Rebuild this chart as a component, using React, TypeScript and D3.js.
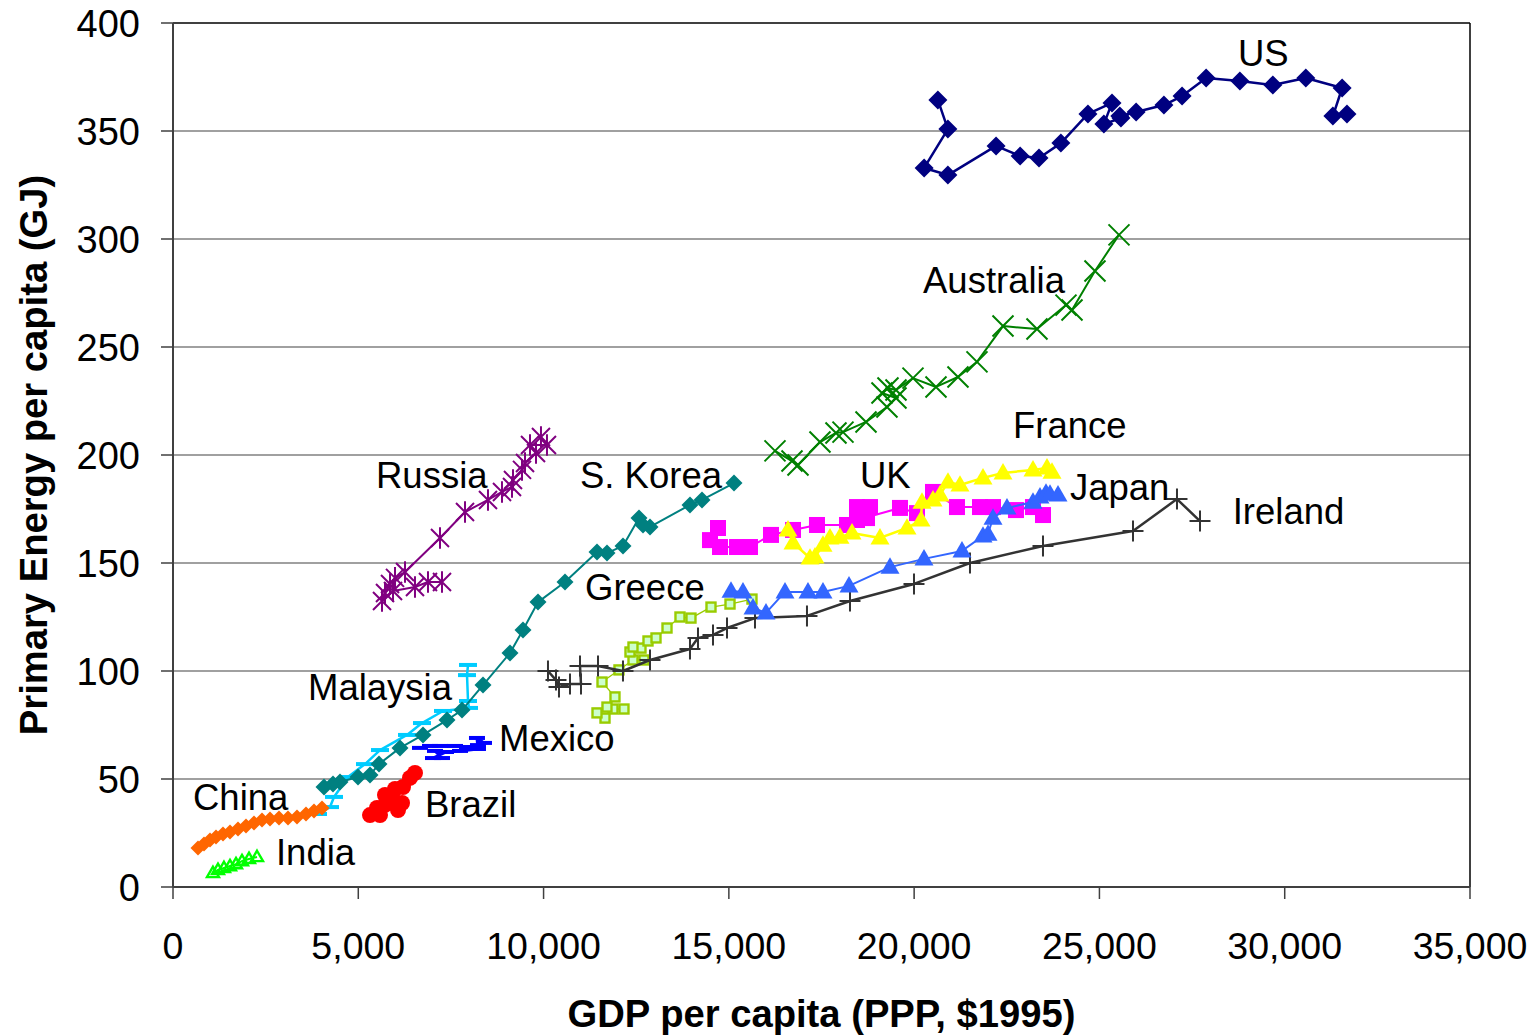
import React from "react";
import * as d3 from "d3";

// ---- Data (GDP per capita PPP $1995, Primary energy per capita GJ) ----
const xTicks = [0, 5000, 10000, 15000, 20000, 25000, 30000, 35000];
const yTicks = [0, 50, 100, 150, 200, 250, 300, 350, 400];

const usData: [number, number][] = [
  [20640, 364.4], [20910, 350.9], [20270, 332.9], [20910, 329.6], [22210, 343.1], [22860, 338.4],
  [23370, 337.5], [23960, 344.4], [24690, 357.9], [25340, 363.0], [25120, 353.2], [25580, 356.0],
  [25550, 356.9], [25990, 358.8], [26740, 362.0], [27230, 366.2], [27880, 374.5], [28790, 373.1],
  [29680, 371.3], [30570, 374.5], [31550, 369.9], [31300, 356.9], [31680, 357.9],
];
const australiaData: [number, number][] = [
  [16245, 201.9], [16704, 197.2], [16866, 195.4], [17459, 206.0], [17891, 210.2], [18080, 210.6],
  [18701, 215.3], [19267, 222.2], [19510, 226.4], [19132, 228.7], [19294, 231.0], [19510, 230.1],
  [19969, 235.6], [20590, 231.5], [21183, 236.1], [21696, 243.1], [22398, 259.7], [23315, 258.3],
  [24098, 269.4], [24260, 267.1], [24880, 285.2], [25528, 301.9],
];
const russiaData: [number, number][] = [
  [9930, 208.3], [10092, 204.6], [9634, 204.6], [9796, 200.9], [9499, 196.3], [9418, 193.1],
  [9175, 188.4], [9148, 185.2], [8878, 182.9], [8500, 179.2], [7880, 173.6], [7205, 161.6],
  [6261, 145.8], [5991, 143.1], [5856, 140.3], [5721, 136.1], [5640, 132.4], [5937, 137.0],
  [6530, 138.9], [6881, 141.2], [7259, 141.2],
];
const koreaData: [number, number][] = [
  [4075, 46.3], [4318, 47.7], [4506, 48.6], [4992, 50.9], [5316, 51.9], [5559, 56.9], [6126, 64.4],
  [6746, 70.4], [7394, 77.3], [7799, 81.9], [8365, 93.5], [9094, 108.3], [9445, 119.0], [9850, 131.9],
  [10578, 141.2], [11442, 155.1], [11711, 154.6], [12143, 157.9], [12575, 170.8], [12683, 167.6],
  [12872, 166.7], [13951, 176.9], [14275, 179.2], [15139, 187.0],
];
const malaysiaData: [number, number][] = [
  [3913, 33.8], [4237, 37.0], [4345, 41.7], [4722, 50.9], [5181, 56.9], [5586, 63.4], [6315, 70.4],
  [6719, 75.9], [7286, 81.5], [7988, 82.9], [7961, 86.1], [7934, 98.1], [7961, 102.8],
];
const mexicoData: [number, number][] = [
  [6665, 64.4], [6935, 65.3], [7205, 65.3], [7610, 65.3], [7934, 64.8], [8230, 65.7], [8392, 66.7],
  [8203, 69.0], [8230, 63.9], [7745, 63.0], [7367, 62.5], [7016, 59.7], [7259, 59.7], [7070, 63.0],
];
const brazilData: [number, number][] = [
  [5316, 33.3], [5586, 33.3], [5505, 36.6], [5721, 38.0], [6072, 35.6], [6180, 38.9], [5937, 40.7],
  [5721, 42.6], [5991, 45.4], [6207, 46.3], [6395, 50.5], [6530, 52.8],
];
const chinaData: [number, number][] = [
  [675, 18.1], [837, 19.9], [998, 21.8], [1160, 23.1], [1349, 24.5], [1538, 25.5], [1754, 26.9],
  [1970, 28.2], [2186, 29.6], [2402, 31.0], [2618, 31.5], [2860, 31.9], [3103, 31.9], [3346, 32.4],
  [3589, 33.8], [3805, 35.2], [4021, 36.6],
];
const indiaData: [number, number][] = [
  [1079, 6.5], [1214, 7.9], [1376, 8.8], [1538, 9.7], [1700, 10.6], [1862, 12.0], [2051, 13.0], [2267, 13.9],
];
const greeceData: [number, number][] = [
  [12170, 82.4], [11873, 82.4], [11658, 78.2], [11442, 80.6], [11711, 83.3], [11927, 88.0],
  [11577, 94.9], [12035, 100.5], [12413, 105.1], [12710, 105.1], [12332, 108.8], [12629, 110.6],
  [12413, 111.1], [12818, 113.9], [13034, 115.3], [13331, 119.9], [13681, 125.0], [13978, 124.5],
  [14518, 129.6], [15031, 131.0], [15624, 133.3],
];
const irelandData: [number, number][] = [
  [10119, 100.0], [10335, 95.8], [10416, 92.6], [10713, 94.0], [11010, 94.0], [10983, 102.3],
  [11469, 102.3], [12143, 100.0], [12872, 105.1], [13951, 110.2], [14167, 115.3], [14572, 116.7],
  [14950, 119.9], [15705, 124.5], [17108, 125.5], [18269, 132.4], [19996, 140.3], [21507, 150.0],
  [23477, 157.9], [25906, 164.8], [27093, 179.6], [27714, 169.4],
];
const ukData: [number, number][] = [
  [14707, 166.2], [14491, 160.6], [14761, 157.4], [15220, 157.4], [15570, 157.4], [16137, 163.0],
  [16731, 165.3], [17378, 167.6], [18188, 167.6], [18458, 175.9], [18809, 175.9], [18728, 170.8],
  [18458, 169.9], [19618, 175.5], [20077, 173.1], [20509, 182.9], [21156, 175.9], [21777, 175.9],
  [22128, 175.9], [22748, 174.5], [23207, 175.9], [23477, 172.2],
];
const japanData: [number, number][] = [
  [15058, 137.0], [15381, 136.6], [15651, 129.2], [16002, 126.9], [16515, 136.6], [17135, 136.6],
  [17540, 136.6], [18242, 139.4], [19348, 148.1], [20266, 151.9], [21291, 155.6], [21858, 162.5],
  [21993, 163.4], [22128, 170.8], [22505, 175.5], [23207, 178.2], [23396, 180.6], [23558, 182.4],
  [23666, 181.9], [23882, 181.5],
];
const franceData: [number, number][] = [
  [16596, 165.3], [16731, 159.3], [17189, 152.3], [17324, 152.8], [17540, 158.3], [17729, 161.6],
  [17999, 162.0], [18323, 163.9], [19078, 161.6], [19807, 166.2], [20185, 169.9], [20212, 178.2],
  [20509, 179.2], [20697, 181.5], [20913, 187.5], [21237, 186.1], [21858, 189.4], [22398, 191.7],
  [23207, 193.1], [23585, 194.0], [23720, 192.1],
];

const labelNames = ["US", "Australia", "France", "Russia", "S. Korea", "UK", "Japan", "Ireland", "Greece", "Malaysia", "Mexico", "China", "Brazil", "India"];
const labelX = [28739, 20239, 22667, 5478, 10983, 18539, 24205, 28596, 11118, 3643, 8797, 540, 6800, 2779];
const labelY = [380.1, 275.0, 207.9, 184.7, 184.7, 184.7, 179.2, 168.0, 132.9, 86.6, 63.0, 35.6, 32.4, 10.2];

// ---- Layout ----
const W = 1535, H = 1035;
const L = 173, R = 1470, T = 23, B = 887;
const x = d3.scaleLinear().domain([0, 35000]).range([L, R]);
const y = d3.scaleLinear().domain([0, 400]).range([B, T]);
const FONT = "'Liberation Sans', Arial, sans-serif";

type Marker = "diamond" | "x" | "asterisk" | "plus" | "triangle" | "square" | "circle" | "dash";
type Series = {
  data: [number, number][];
  color: string;
  lw: number;
  marker: Marker;
  size: number;
  fill?: string;
  mstroke?: number;
};

const series: Series[] = [
  { data: usData, color: "#000080", lw: 2.5, marker: "diamond", size: 9.5 },
  { data: australiaData, color: "#008000", lw: 2, marker: "x", size: 10.5, mstroke: 2 },
  { data: russiaData, color: "#800080", lw: 2, marker: "asterisk", size: 9, mstroke: 2 },
  { data: malaysiaData, color: "#00ccff", lw: 2.5, marker: "dash", size: 9 },
  { data: koreaData, color: "#008080", lw: 2, marker: "diamond", size: 8.5 },
  { data: mexicoData, color: "#0000ff", lw: 3, marker: "dash", size: 8 },
  { data: brazilData, color: "#ff0000", lw: 2, marker: "circle", size: 8 },
  { data: chinaData, color: "#ff6600", lw: 2, marker: "diamond", size: 7.5 },
  { data: indiaData, color: "#00ff00", lw: 2, marker: "triangle", size: 6, fill: "none", mstroke: 2.4 },
  { data: greeceData, color: "#99cc00", lw: 1.3, marker: "square", size: 4.5, fill: "#ccffcc", mstroke: 2.4 },
  { data: irelandData, color: "#333333", lw: 2.5, marker: "plus", size: 10.5, mstroke: 2 },
  { data: ukData, color: "#ff00ff", lw: 2, marker: "square", size: 8 },
  { data: japanData, color: "#3366ff", lw: 2, marker: "triangle", size: 9.5 },
  { data: franceData, color: "#ffff00", lw: 2.5, marker: "triangle", size: 9.5 },
];

function markerEl(m: Marker, s: number, color: string, fill: string | undefined, ms: number | undefined, key: string, cx: number, cy: number) {
  const tr = `translate(${cx},${cy})`;
  switch (m) {
    case "diamond":
      return <path key={key} transform={tr} d={`M0,${-s}L${s},0L0,${s}L${-s},0Z`} fill={color} />;
    case "x":
      return <path key={key} transform={tr} d={`M${-s},${-s}L${s},${s}M${-s},${s}L${s},${-s}`} stroke={color} strokeWidth={ms ?? 2} fill="none" />;
    case "asterisk":
      return <path key={key} transform={tr} d={`M${-s},${-s}L${s},${s}M${-s},${s}L${s},${-s}M0,${-s * 1.2}V${s * 1.2}`} stroke={color} strokeWidth={ms ?? 2} fill="none" />;
    case "plus":
      return <path key={key} transform={tr} d={`M${-s},0H${s}M0,${-s}V${s}`} stroke={color} strokeWidth={ms ?? 2} fill="none" />;
    case "triangle": {
      const h = s * 1.73;
      return <path key={key} transform={tr} d={`M0,${-h * 0.6}L${s},${h * 0.4}L${-s},${h * 0.4}Z`} fill={fill ?? color} stroke={color} strokeWidth={ms ?? 0} />;
    }
    case "square":
      return <rect key={key} x={cx - s} y={cy - s} width={2 * s} height={2 * s} fill={fill ?? color} stroke={ms ? color : "none"} strokeWidth={ms ?? 0} />;
    case "circle":
      return <circle key={key} cx={cx} cy={cy} r={s} fill={color} />;
    case "dash":
      return <rect key={key} x={cx - s} y={cy - 2} width={2 * s} height={4} fill={color} />;
  }
}

export default function App() {
  const line = d3.line<[number, number]>().x((d) => x(d[0])).y((d) => y(d[1]));
  return (
    <svg width={W} height={H} style={{ position: "absolute", left: 0, top: 0, background: "#fff" }} fontFamily={FONT}>
      {/* gridlines */}
      {yTicks.filter((t) => t > 0).map((t) => (
        <line key={"g" + t} x1={L} x2={R} y1={y(t)} y2={y(t)} stroke={t === 400 ? "#000" : "#808080"} strokeWidth={1.5} />
      ))}
      {/* frame right */}
      <line x1={R} x2={R} y1={T} y2={B} stroke="#000" strokeWidth={1.5} />
      {/* axes */}
      <line x1={L} x2={L} y1={T} y2={B} stroke="#404040" strokeWidth={2} />
      <line x1={L} x2={R} y1={B} y2={B} stroke="#404040" strokeWidth={2} />
      {yTicks.map((t) => (
        <g key={"yt" + t}>
          <line x1={L - 12} x2={L} y1={y(t)} y2={y(t)} stroke="#404040" strokeWidth={1.5} />
          <text x={140} y={y(t)} dy="0.36em" textAnchor="end" fontSize={38} fill="#000">{t}</text>
        </g>
      ))}
      {xTicks.map((t) => (
        <g key={"xt" + t}>
          <line x1={x(t)} x2={x(t)} y1={B} y2={B + 12} stroke="#404040" strokeWidth={1.5} />
          <text x={x(t)} y={959} textAnchor="middle" fontSize={37.5} fill="#000">{d3.format(",")(t)}</text>
        </g>
      ))}
      {/* series */}
      {series.map((s, i) => (
        <g key={"s" + i}>
          <path d={line(s.data) ?? ""} fill="none" stroke={s.color} strokeWidth={s.lw} strokeLinejoin="round" />
          {s.data.map((d, j) => markerEl(s.marker, s.size, s.color, s.fill, s.mstroke, `m${i}-${j}`, x(d[0]), y(d[1])))}
        </g>
      ))}
      {/* labels */}
      {labelNames.map((n, i) => (
        <text key={"l" + n} x={x(labelX[i])} y={y(labelY[i])} fontSize={36.5} fill="#000">{n}</text>
      ))}
      {/* axis titles */}
      <text x={(L + R) / 2} y={1027} textAnchor="middle" fontSize={38.2} fontWeight="bold" fill="#000">GDP per capita (PPP, $1995)</text>
      <text transform={`translate(47,${(T + B) / 2}) rotate(-90)`} textAnchor="middle" fontSize={38.2} fontWeight="bold" fill="#000">Primary Energy per capita (GJ)</text>
    </svg>
  );
}
